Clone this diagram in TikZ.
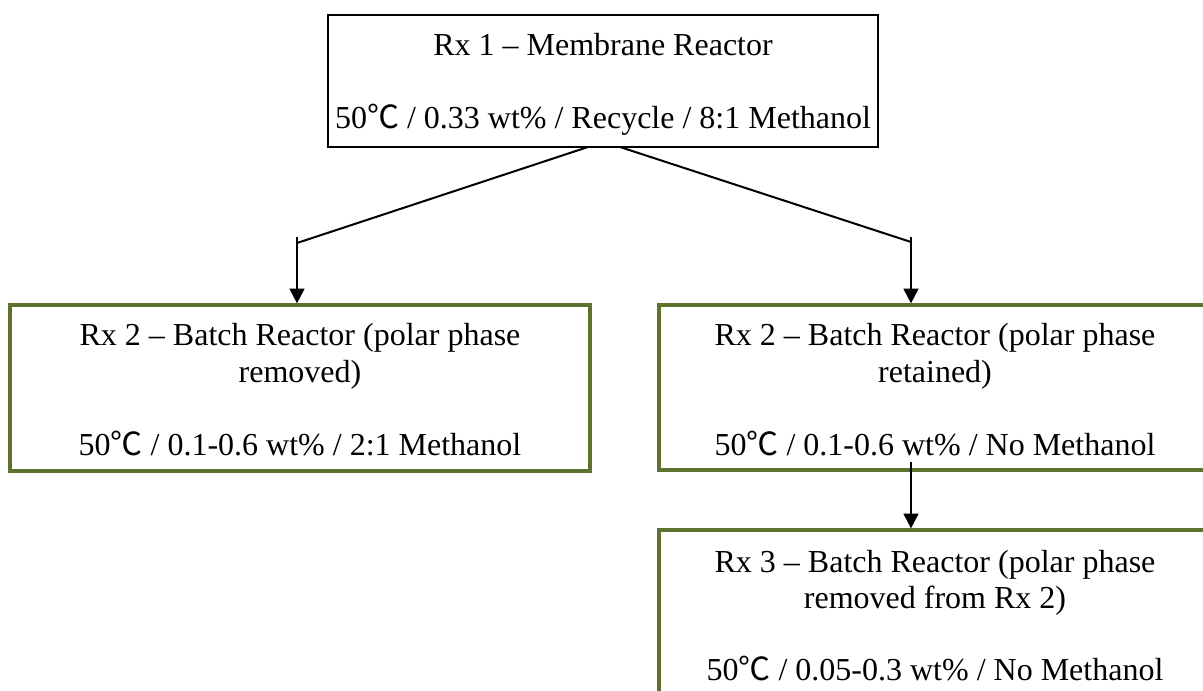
\documentclass[tikz,border=0pt]{standalone}
\usepackage{fontspec}
\setmainfont{Liberation Serif}
\newfontfamily\cjk{Noto Sans CJK SC}
\usetikzlibrary{arrows.meta,fit}
\definecolor{boxolive}{RGB}{94,114,47}
\definecolor{boxolivelt}{RGB}{170,182,135}
\newcommand\degC{{\cjk ℃}}
\begin{document}
\begin{tikzpicture}[x=0.75pt,y=-0.75pt,
  txt/.style={anchor=base,inner sep=0pt,font=\fontsize{24}{27.5}\selectfont},
  blackbox/.style={draw=black,line width=1.5pt,inner sep=0pt},
  greenbox/.style={draw=boxolive,line width=2.4pt,inner sep=0pt,preaction={draw=boxolivelt,line width=3.6pt}},
  conn/.style={draw=black,line width=1.5pt},
  arr/.style={conn,-{Triangle[width=11pt,length=11pt]}}]
\useasboundingbox (0,0) rectangle (1203,690);
\begin{scope}
\clip (0,0) rectangle (1203,690);
% box corners
\coordinate (r1a) at (328,15);   \coordinate (r1b) at (878,147);
\coordinate (r2la) at (10,305);  \coordinate (r2lb) at (590,471);
\coordinate (r2ra) at (659,305); \coordinate (r2rb) at (1211,470);
\coordinate (r3a) at (659,530);  \coordinate (r3b) at (1211,720);
% boxes
\node[blackbox,fit={(r1a)(r1b)}] (r1) {};
\node[greenbox,fit={(r2la)(r2lb)}] (r2l) {};
\node[greenbox,fit={(r2ra)(r2rb)}] (r2r) {};
\node[greenbox,fit={(r3a)(r3b)}] (r3) {};
% texts
\node[txt] (r1t1) at (603,55) {Rx 1 – Membrane Reactor};
\node[txt] (r1t2) at (603,128) {50\degC{} / 0.33 wt\% / Recycle / 8:1 Methanol};
\node[txt] (r2lt1) at (300,345) {Rx 2 – Batch Reactor (polar phase};
\node[txt] (r2lt2) at (300,382) {removed)};
\node[txt] (r2lt3) at (300,455) {50\degC{} / 0.1-0.6 wt\% / 2:1 Methanol};
\node[txt] (r2rt1) at (935,345) {Rx 2 – Batch Reactor (polar phase};
\node[txt] (r2rt2) at (935,382) {retained)};
\node[txt] (r2rt3) at (935,455) {50\degC{} / 0.1-0.6 wt\% / No Methanol};
\node[txt] (r3t1) at (935,572) {Rx 3 – Batch Reactor (polar phase};
\node[txt] (r3t2) at (935,608) {removed from Rx 2)};
\node[txt] (r3t3) at (935,680) {50\degC{} / 0.05-0.3 wt\% / No Methanol};
% connectors
\coordinate (sl) at (588,147);
\coordinate (sr) at (620,147);
\coordinate (kl) at (297,243);
\coordinate (kr) at (911,242);
\coordinate (tl) at (297,237);
\coordinate (tr) at (911,237);
\coordinate (s3) at (911,462);
\draw[conn] (sl) -- (kl);
\draw[conn] (sr) -- (kr);
\draw[arr] (tl) -- (tl |- r2l.north);
\draw[arr] (tr) -- (tr |- r2r.north);
\draw[arr] (s3) -- (s3 |- r3.north);
\end{scope}
\end{tikzpicture}
\end{document}
